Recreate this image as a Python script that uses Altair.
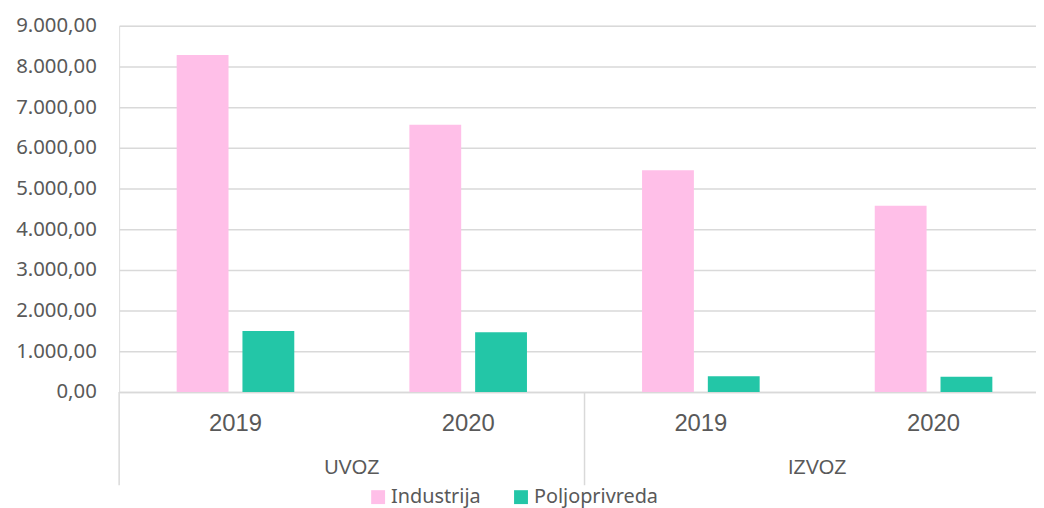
import altair as alt
import pandas as pd

groups = ["UVOZ", "UVOZ", "IZVOZ", "IZVOZ"]
years = ["2019", "2020", "2019", "2020"]
series = ["Industrija", "Poljoprivreda"]
industrija = [8280, 6570, 5450, 4575]
poljoprivreda = [1500, 1465, 385, 375]
y_ticks = [0, 1000, 2000, 3000, 4000, 5000, 6000, 7000, 8000, 9000]
colors = ["#FFBFE8", "#23C6A7"]

keys = [g + " " + y for g, y in zip(groups, years)]
rows = []
for k, v in zip(keys, industrija):
    rows.append({"key": k, "series": series[0], "value": v})
for k, v in zip(keys, poljoprivreda):
    rows.append({"key": k, "series": series[1], "value": v})
df = pd.DataFrame(rows)

grp_df = pd.DataFrame({"key": ["UVOZ 2019", "IZVOZ 2019"], "group": ["UVOZ", "IZVOZ"]})

W, H = 938, 369
GRAY = "#D9D9D9"
TXT = "#595959"

xscale = alt.Scale(domain=keys, paddingInner=0, paddingOuter=0)
xaxis = alt.Axis(
    title=None, labelExpr="split(datum.value, ' ')[1]", labelAngle=0,
    ticks=False, tickSize=0, domain=True, domainColor=GRAY, domainWidth=1.5,
    labelFontSize=24, labelFont="Liberation Sans", labelColor=TXT,
    labelPadding=19.5, labelBaseline="top", grid=False,
)

bars = alt.Chart(df).mark_bar().encode(
    x=alt.X("key:N", scale=xscale, axis=xaxis),
    xOffset=alt.XOffset("series:N", scale=alt.Scale(domain=series, paddingInner=0.212, paddingOuter=0.875)),
    y=alt.Y("value:Q", scale=alt.Scale(domain=[0, 9000], nice=False),
            axis=alt.Axis(title=None, values=y_ticks, grid=True, gridColor=GRAY, gridWidth=1.5,
                          domain=False, ticks=False, tickSize=0, labelPadding=23,
                          labelFont="Noto Sans", labelFontSize=20.5, labelColor=TXT,
                          labelExpr="replace(replace(replace(format(datum.value, ',.2f'), ',', '#'), '.', ','), '#', '.')")),
    color=alt.Color("series:N", scale=alt.Scale(domain=series, range=colors),
                    legend=alt.Legend(title=None, orient="none", direction="horizontal",
                                      legendX=251, legendY=465, symbolType="square", symbolSize=196,
                                      symbolStrokeWidth=0, labelFont="Noto Sans", labelFontSize=20,
                                      labelColor=TXT, columnPadding=30, labelOffset=3, padding=0)),
)

seps = alt.Chart(grp_df).mark_rule(color=GRAY, strokeWidth=1.5).encode(
    x=alt.X("key:N", scale=xscale, axis=xaxis, bandPosition=0),
    y=alt.value(H),
    y2=alt.value(H + 94),
)

glabels = alt.Chart(grp_df).mark_text(font="Liberation Sans", fontSize=20, color=TXT, baseline="middle").encode(
    x=alt.X("key:N", scale=xscale, axis=xaxis, bandPosition=1),
    y=alt.value(H + 77),
    text="group:N",
)

chart = alt.layer(bars, seps, glabels).properties(
    width=W, height=H, autosize="none",
    padding={"left": 112, "top": 16, "right": -14, "bottom": 115},
).configure_view(stroke=None).configure(background="white")

chart.save("out.html", embed_options={"renderer": "svg", "actions": False})
